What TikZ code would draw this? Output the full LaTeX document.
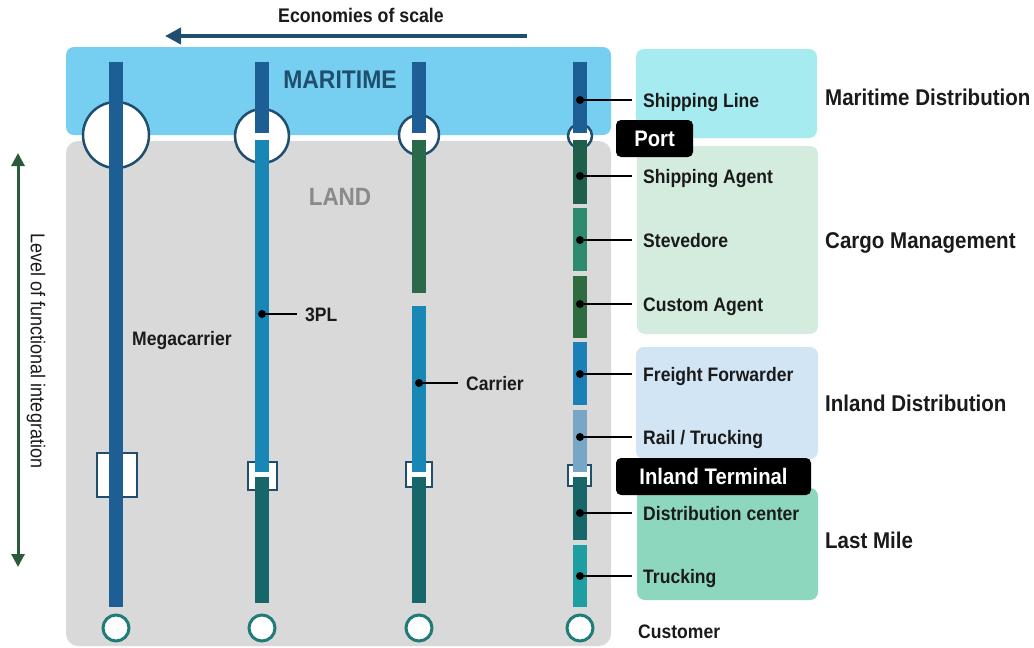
\documentclass[tikz,border=0pt]{standalone}
\usepackage{fontspec}
\setmainfont{Liberation Sans}[FakeStretch=0.9]
\usetikzlibrary{arrows.meta}
\definecolor{marbg}{HTML}{76CEF0}
\definecolor{landbg}{HTML}{D9D9D9}
\definecolor{navy}{HTML}{1F4E6E}
\definecolor{dkblue}{HTML}{1D5E95}
\definecolor{ltblue}{HTML}{1887B5}
\definecolor{tealdk}{HTML}{17676A}
\definecolor{grn}{HTML}{2A6A4B}
\definecolor{agent}{HTML}{1F5E4A}
\definecolor{steve}{HTML}{2E8B70}
\definecolor{custom}{HTML}{2E6B3E}
\definecolor{ffw}{HTML}{1A80B5}
\definecolor{rail}{HTML}{78A6C6}
\definecolor{truck}{HTML}{1E9EA0}
\definecolor{tealring}{HTML}{1E7B78}
\definecolor{lvl}{HTML}{2B5B3A}
\definecolor{boxA}{HTML}{A6EBEF}
\definecolor{boxB}{HTML}{D3ECDD}
\definecolor{boxC}{HTML}{D2E5F4}
\definecolor{boxD}{HTML}{8DD7BF}
\definecolor{txt}{HTML}{1A1A1A}
\definecolor{landtxt}{HTML}{8A8A8A}
\begin{document}
\begin{tikzpicture}[x=1pt,y=-1pt,
  lbl/.style={anchor=west,inner xsep=11pt,inner ysep=0pt,text=txt,font=\bfseries\fontsize{19.5}{22}\selectfont,text height=14pt,text depth=0pt},
  plain/.style={anchor=west,inner sep=0pt,text=txt,font=\bfseries\fontsize{19.5}{22}\selectfont,text height=14pt,text depth=0pt},
  head/.style={anchor=west,inner sep=0pt,text=txt,font=\bfseries\fontsize{22.8}{26}\selectfont,text height=16.3pt,text depth=0pt},
  blk/.style={fill=black,rounded corners=5pt,text=white,font=\bfseries\fontsize{22.5}{26}\selectfont,inner sep=0pt},
  dot/.style={circle,fill=black,inner sep=0pt,minimum size=8pt},
  conn/.style={line width=2pt,black},
  topring/.style={draw=navy,line width=2.5pt,fill=white},
  botring/.style={draw=tealring,line width=3pt,fill=white},
  grp/.style={rounded corners=8pt}
]
\useasboundingbox (0,0) rectangle (1034,648);
% background areas
\fill[marbg,grp] (66,47) rectangle (611,135);
\fill[landbg,rounded corners=12pt] (66,141) rectangle (611,646);
\fill[boxA,grp] (636,49) rectangle (817,138);
\fill[boxB,grp] (637,146) rectangle (818,334);
\fill[boxC,grp] (636,347) rectangle (818,459);
\fill[boxD,grp] (637,488) rectangle (818,600);
% titles
\node[text=navy,font=\bfseries\fontsize{25.5}{28}\selectfont] (mar) at (340,80) {MARITIME};
\node[text=landtxt,font=\bfseries\fontsize{25}{28}\selectfont] (land) at (340,197) {LAND};
\node[text=txt,font=\bfseries\fontsize{19.7}{22}\selectfont] (eco) at (361,15) {Economies of scale};
\coordinate (ecoS) at (527,36);
\coordinate (ecoE) at (165,36);
\draw[navy,line width=4pt,-{Triangle[width=16pt,length=16pt]}] (ecoS) -- (ecoE);
\coordinate (lvlT) at (18,153);
\coordinate (lvlB) at (18,567);
\draw[lvl,line width=3pt,{Triangle[width=13pt,length=13pt]}-{Triangle[width=13pt,length=13pt]}] (lvlT) -- (lvlB);
\node[rotate=-90,text=txt,font=\fontsize{20}{24}\selectfont] (lvltxt) at (36,351) {Level of functional integration};
% rings and terminals
\draw[topring] (116,135) circle[radius=33];
\draw[topring] (262,136) circle[radius=27];
\draw[topring] (419,135) circle[radius=20];
\draw[topring] (580,136) circle[radius=12];
\draw[topring] (97,453) rectangle (137,497);
\draw[topring,line width=2pt] (248,462) rectangle (277,490);
\draw[topring,line width=2pt] (406,462) rectangle (432,487);
\draw[topring,line width=2pt] (568,465) rectangle (591,486);
% column 1
\fill[dkblue] (109,62) rectangle (123,607);
% column 2
\fill[dkblue] (255,62) rectangle (269,133);
\fill[ltblue] (255,140) rectangle (269,472);
\fill[tealdk] (255,477) rectangle (269,603);
% column 3
\fill[dkblue] (412,62) rectangle (426,133);
\fill[grn] (412,140) rectangle (426,293);
\fill[ltblue] (412,306) rectangle (426,472);
\fill[tealdk] (412,477) rectangle (426,603);
% column 4
\fill[dkblue] (573,62) rectangle (587,133);
\fill[agent] (573,140) rectangle (587,204);
\fill[steve] (573,208) rectangle (587,271);
\fill[custom] (573,276) rectangle (587,338);
\fill[ffw] (573,342) rectangle (587,405);
\fill[rail] (573,410) rectangle (587,472);
\fill[tealdk] (573,477) rectangle (587,540);
\fill[truck] (573,545) rectangle (587,607);
% bottom rings
\draw[botring] (116,628) circle[radius=13];
\draw[botring] (262,628) circle[radius=13];
\draw[botring] (419,628) circle[radius=13];
\draw[botring] (580,628) circle[radius=13];
% column labels
\node[plain] (mega) at (132,338) {Megacarrier};
\node[dot] (d3pl) at (262,314) {};
\node[lbl,inner xsep=8pt] (l3pl) at (297,314) {3PL};
\draw[conn] (d3pl) -- (l3pl.west);
\node[dot] (dcar) at (419,383) {};
\node[lbl,inner xsep=8pt] (lcar) at (458,383) {Carrier};
\draw[conn] (dcar) -- (lcar.west);
% column 4 labels
\node[dot] (d1) at (580,100) {};
\node[lbl] (l1) at (632,100) {Shipping Line};
\draw[conn] (d1) -- (l1.west);
\node[dot] (d2) at (580,176) {};
\node[lbl] (l2) at (632,176) {Shipping Agent};
\draw[conn] (d2) -- (l2.west);
\node[dot] (d3) at (580,240) {};
\node[lbl] (l3) at (632,240) {Stevedore};
\draw[conn] (d3) -- (l3.west);
\node[dot] (d4) at (580,304) {};
\node[lbl] (l4) at (632,304) {Custom Agent};
\draw[conn] (d4) -- (l4.west);
\node[dot] (d5) at (580,374) {};
\node[lbl] (l5) at (632,374) {Freight Forwarder};
\draw[conn] (d5) -- (l5.west);
\node[dot] (d6) at (580,437) {};
\node[lbl] (l6) at (632,437) {Rail / Trucking};
\draw[conn] (d6) -- (l6.west);
\node[dot] (d7) at (580,513) {};
\node[lbl] (l7) at (632,513) {Distribution center};
\draw[conn] (d7) -- (l7.west);
\node[dot] (d8) at (580,576) {};
\node[lbl] (l8) at (632,576) {Trucking};
\draw[conn] (d8) -- (l8.west);
\node[plain] (cust) at (638,631) {Customer};
% black tags
\node[blk,minimum width=77pt,minimum height=37pt] (port) at (654.5,138.5) {Port};
\node[blk,minimum width=195pt,minimum height=37pt] (inl) at (713.5,476.5) {Inland Terminal};
% group headings
\node[head] (h1) at (825,97) {Maritime Distribution};
\node[head] (h2) at (825,240) {Cargo Management};
\node[head] (h3) at (825,403) {Inland Distribution};
\node[head] (h4) at (825,540) {Last Mile};
\end{tikzpicture}
\end{document}
